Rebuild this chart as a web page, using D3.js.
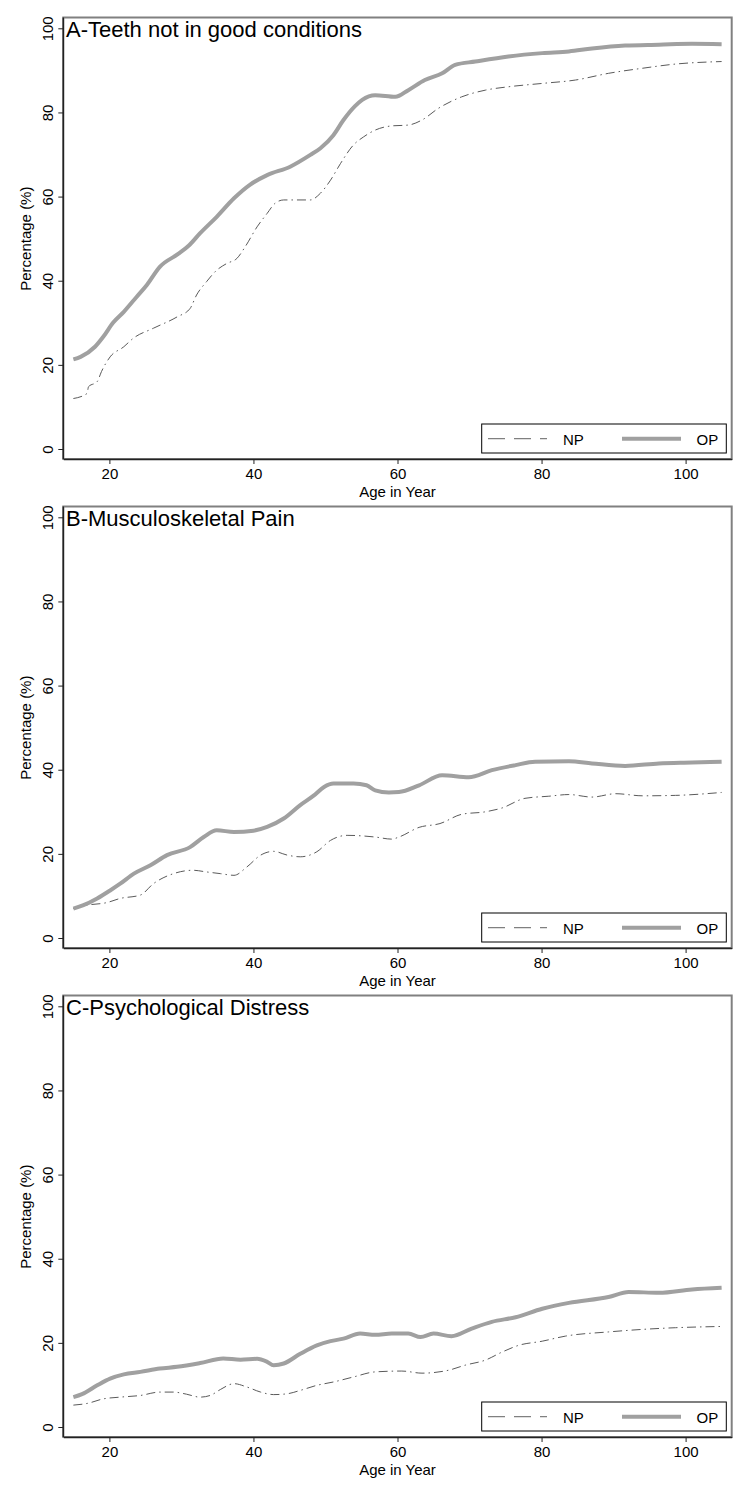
<!DOCTYPE html>
<html><head><meta charset="utf-8">
<script src="https://cdn.jsdelivr.net/npm/d3@7"></script>
<style>body{margin:0;background:#fff}svg{display:block}text{font-family:"Liberation Sans",Arial,sans-serif;fill:#000}</style>
</head><body><svg id="c" width="750" height="1500"></svg>
<script>
const panelTitles = ["A-Teeth not in good conditions","B-Musculoskeletal Pain","C-Psychological Distress"];
const xTicks = [20,40,60,80,100];
const yTicks = [0,20,40,60,80,100];
const seriesNames = ["NP","OP"];

const agesA_OP = [15,16,18,19.2,20.5,22,23.8,25.2,27,29.5,31,32.6,34.9,37.3,39.5,41.9,45.1,47.9,49.3,51.1,52.5,54.1,55.1,56.9,59.7,61.5,63.8,66.2,68,70.8,75.4,80.1,83.8,87,91.6,96.3,100.9,105];
const valsA_OP = [21.3,21.9,24.3,26.8,30,32.6,36.2,39,43.3,46.3,48.3,51.3,55.2,59.6,62.8,65.1,67.1,69.9,71.5,74.6,78.2,81.5,83,84.1,83.7,85.3,87.7,89.3,91.3,92.1,93.3,94.1,94.5,95.2,95.9,96.1,96.3,96.2];
const agesA_NP = [15,16.9,17.1,18.3,18.9,20.1,22,23.3,26.1,29.4,31.2,32.1,33.5,34.9,36.3,37.7,38.9,40.5,41.9,43,44.2,47.9,49.3,50.7,52.1,53.9,55.3,56.9,59.2,61.5,63.4,65.7,68.9,72.2,75.4,80.1,84.7,89.3,94,98.6,105];
const valsA_NP = [12,13.2,14.8,16,18.4,21.9,24.3,26.3,28.7,31.4,33.4,36.6,39.8,42.5,44.1,45.3,48.2,52.8,56,58.4,59.2,59.2,60.8,63.9,67.9,72.3,74.2,75.8,76.8,77,78.2,81,83.7,85.3,86.1,86.9,87.7,89.3,90.5,91.5,92.1];

const agesB_OP = [15,16.4,18.3,20.1,21.5,23.4,25.7,28,31.2,33.1,34.9,37.3,40,41.9,44.2,46.5,48.4,49.8,51.1,53.9,55.7,56.9,58.8,60.2,63,66.2,69.9,73.1,76.4,79.1,83.8,87,91.6,96.3,100.9,105];
const valsB_OP = [7,7.8,9.4,11.3,12.9,15.3,17.3,19.7,21.6,24,25.6,25.2,25.5,26.4,28.4,31.6,33.9,35.9,36.7,36.7,36.3,35.1,34.6,34.7,36.3,38.7,38.2,39.9,41.1,41.9,42,41.5,40.9,41.5,41.7,41.9];
const agesB_NP = [15,16.9,19.6,21.5,24.3,26.1,28.9,31.6,33.5,35.4,37.3,39.1,41,42.8,44.7,46.5,48.8,50.7,53,56.9,59.2,60.2,63,65.9,68.9,72.2,74.5,77.7,81,83.8,87,90.3,94,98.6,105];
const valsB_NP = [7,7.8,8.4,9.4,10.2,12.9,15.3,16.1,15.7,15.3,14.9,16.9,19.7,20.6,19.7,19.3,20.5,23.2,24.4,24,23.5,24,26.3,27.2,29.4,30,30.9,33.2,33.7,34.1,33.5,34.3,33.8,33.9,34.6];

const agesC_OP = [15,16.2,18.3,20.1,22,24.3,27,29.4,32.6,35.8,38.2,40.5,41.9,42.8,44.2,46.5,48.8,50.7,52.5,54.8,56.9,59.2,61.5,63.2,65,67.5,70.3,73.1,76.4,80.1,83.8,89.3,92.1,96.3,100.9,105];
const valsC_OP = [7.1,7.8,9.9,11.5,12.5,13.1,13.9,14.3,15.2,16.3,16,16.2,15.5,14.7,15.1,17.4,19.4,20.4,21,22.2,21.9,22.2,22.2,21.4,22.2,21.6,23.4,25,26.1,28.1,29.5,30.9,32.1,31.9,32.7,33.1];
const agesC_NP = [15,16.9,19.2,21.5,24.3,27,28.9,30.7,32.6,34,35.4,37.3,39.1,41,42.8,44.7,46.5,48.8,51.1,53.9,56.9,60.6,63.4,67.1,69.4,72.2,74.5,76.8,80.1,83.3,89.3,94,98.6,105];
const valsC_NP = [5.2,5.6,6.7,7.1,7.5,8.3,8.3,7.8,7.1,7.5,8.9,10.3,9.5,8.3,7.7,7.9,8.7,9.9,10.7,11.9,13.1,13.3,12.8,13.5,14.7,15.9,17.8,19.4,20.4,21.6,22.6,23.2,23.6,23.9];

const panels = [
  {title: panelTitles[0], np: d3.zip(agesA_NP, valsA_NP), op: d3.zip(agesA_OP, valsA_OP)},
  {title: panelTitles[1], np: d3.zip(agesB_NP, valsB_NP), op: d3.zip(agesB_OP, valsB_OP)},
  {title: panelTitles[2], np: d3.zip(agesC_NP, valsC_NP), op: d3.zip(agesC_OP, valsC_OP)}
];

const svg = d3.select("#c");
const L = 63.3, R = 731.7, T = 17.5, B = 459;
const x = d3.scaleLinear().domain([13.6, 106.4]).range([L, R]);
const y = d3.scaleLinear().domain([0, 100]).range([449, 28.3]);
const OPC = "#a0a0a0", NPC = "#5a5a5a";

panels.forEach((p, i) => {
  const g = svg.append("g").attr("transform", `translate(0,${i*489})`);
  g.append("rect").attr("x", L).attr("y", T).attr("width", R-L).attr("height", B-T)
    .attr("fill", "none").attr("stroke", "#808080").attr("stroke-width", 2);

  const line = d3.line().x(d => x(d[0])).y(d => y(d[1])).curve(d3.curveMonotoneX);
  g.append("path").datum(p.np).attr("d", line).attr("fill", "none")
    .attr("stroke", NPC).attr("stroke-width", 1).attr("stroke-dasharray", "9,4,1.5,4");
  g.append("path").datum(p.op).attr("d", line).attr("fill", "none")
    .attr("stroke", OPC).attr("stroke-width", 4).attr("stroke-linejoin", "round");

  const xa = g.append("g").attr("transform", `translate(0,${B})`)
    .call(d3.axisBottom(x).tickValues(xTicks).tickSize(5).tickSizeOuter(0).tickPadding(4));
  xa.select(".domain").attr("stroke", "#222").attr("stroke-width", 1.5);
  xa.selectAll(".tick line").attr("stroke", "#222");
  xa.selectAll(".tick text").attr("font-size", 15).attr("font-family", "Liberation Sans, Arial, sans-serif").attr("fill", "#000");

  const ya = g.append("g").attr("transform", `translate(${L},0)`)
    .call(d3.axisLeft(y).tickValues(yTicks).tickSize(5).tickSizeOuter(0));
  ya.select(".domain").attr("d", `M0,${T}V${B}`).attr("stroke", "#222").attr("stroke-width", 1.5);
  ya.selectAll(".tick line").attr("stroke", "#222");
  ya.selectAll(".tick text").attr("x", null).attr("dy", null)
    .attr("text-anchor", "middle").attr("transform", "translate(-10.5,0) rotate(-90)")
    .attr("font-size", 15).attr("font-family", "Liberation Sans, Arial, sans-serif").attr("fill", "#000");

  g.append("text").attr("transform", `translate(31,${(y(0)+y(100))/2}) rotate(-90)`)
    .attr("text-anchor", "middle").attr("font-size", 15).text("Percentage (%)");
  g.append("text").attr("x", (L+R)/2).attr("y", 497).attr("text-anchor", "middle")
    .attr("font-size", 15).text("Age in Year");
  g.append("text").attr("x", 66).attr("y", 37).attr("font-size", 22).text(p.title);

  const lg = g.append("g");
  lg.append("rect").attr("x", 481.7).attr("y", 424).attr("width", 244.6).attr("height", 29)
    .attr("fill", "#fff").attr("stroke", "#000").attr("stroke-width", 1);
  lg.append("line").attr("x1", 488).attr("x2", 547).attr("y1", 438.7).attr("y2", 438.7)
    .attr("stroke", "#808080").attr("stroke-width", 1.2).attr("stroke-dasharray", "17,9");
  lg.append("text").attr("x", 563).attr("y", 444.5).attr("font-size", 15).text(seriesNames[0]);
  lg.append("line").attr("x1", 622).attr("x2", 681).attr("y1", 438.7).attr("y2", 438.7)
    .attr("stroke", OPC).attr("stroke-width", 4);
  lg.append("text").attr("x", 696.5).attr("y", 444.5).attr("font-size", 15).text(seriesNames[1]);
});
</script></body></html>
